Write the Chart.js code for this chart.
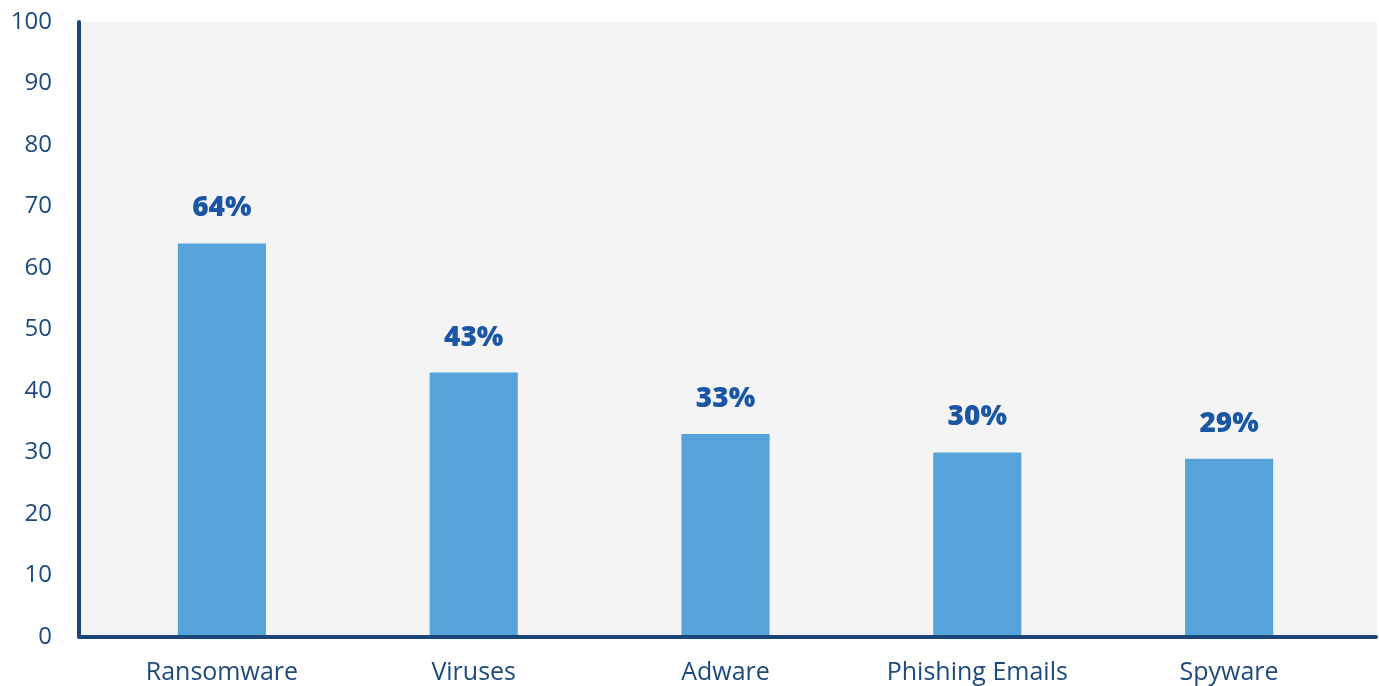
<!DOCTYPE html>
<html>
<head>
<meta charset="utf-8">
<script src="https://cdn.jsdelivr.net/npm/chart.js@4/dist/chart.umd.min.js"></script>
<style>
  html, body { margin: 0; padding: 0; background: #ffffff; }
  #wrap { width: 1379px; height: 686px; }
</style>
</head>
<body>
<div id="wrap"><canvas id="chart" width="1379" height="686"></canvas></div>
<script>
// chart data
var categories = ['Ransomware', 'Viruses', 'Adware', 'Phishing Emails', 'Spyware'];
var shares = [64, 43, 33, 30, 29];
var yTicks = [0, 10, 20, 30, 40, 50, 60, 70, 80, 90, 100];

var axisColor = '#1b4679';
var textColor = '#1d4a7e';
var labelColor = '#1a56a3';
var barColor = '#55a3da';
var fontFamily = '"Open Sans"';

// gray panel behind the plot, a bit wider than the bar area
var panelBg = {
  id: 'panelBg',
  beforeDraw: function (chart) {
    var a = chart.chartArea, ctx = chart.ctx;
    ctx.save();
    ctx.fillStyle = '#f4f4f4';
    ctx.fillRect(a.left - 17, a.top, (a.right + 22) - (a.left - 17), a.bottom - a.top);
    ctx.restore();
  }
};

// thick axis lines + value labels above bars
var axisAndLabels = {
  id: 'axisAndLabels',
  afterDatasetsDraw: function (chart) {
    var a = chart.chartArea, ctx = chart.ctx;
    ctx.save();
    ctx.strokeStyle = axisColor;
    ctx.lineWidth = 4;
    ctx.lineCap = 'round';
    ctx.lineJoin = 'round';
    ctx.beginPath();
    ctx.moveTo(a.left - 17, a.top);
    ctx.lineTo(a.left - 17, a.bottom);
    ctx.lineTo(a.right + 21, a.bottom);
    ctx.stroke();

    ctx.fillStyle = labelColor;
    ctx.font = '800 28px ' + fontFamily;
    ctx.textAlign = 'center';
    ctx.textBaseline = 'middle';
    var meta = chart.getDatasetMeta(0);
    meta.data.forEach(function (bar, i) {
      ctx.fillText(shares[i] + '%', bar.x, bar.y - 35);
    });
    ctx.restore();
  }
};

var chart = new Chart(document.getElementById('chart').getContext('2d'), {
  type: 'bar',
  data: {
    labels: categories,
    datasets: [{
      data: shares,
      backgroundColor: barColor,
      borderWidth: 0,
      categoryPercentage: 1,
      barPercentage: 0.35
    }]
  },
  options: {
    responsive: false,
    animation: false,
    layout: { padding: { top: 22, right: 24, bottom: 0, left: 0 } },
    plugins: {
      legend: { display: false },
      tooltip: { enabled: false }
    },
    scales: {
      x: {
        grid: { display: false, drawTicks: true, tickLength: 21 },
        border: { display: false },
        ticks: {
          color: textColor,
          font: { family: fontFamily, size: 25 },
          padding: 0,
          maxRotation: 0
        },
        afterFit: function (scale) { scale.height = 49; }
      },
      y: {
        min: 0,
        max: 100,
        grid: { display: false, drawTicks: true, tickLength: 44 },
        border: { display: false },
        afterBuildTicks: function (scale) {
          scale.ticks = yTicks.map(function (v) { return { value: v }; });
        },
        ticks: {
          color: textColor,
          font: { family: fontFamily, size: 24 },
          padding: 0
        },
        afterFit: function (scale) { scale.width = 96; }
      }
    }
  },
  plugins: [panelBg, axisAndLabels]
});
</script>
</body>
</html>
